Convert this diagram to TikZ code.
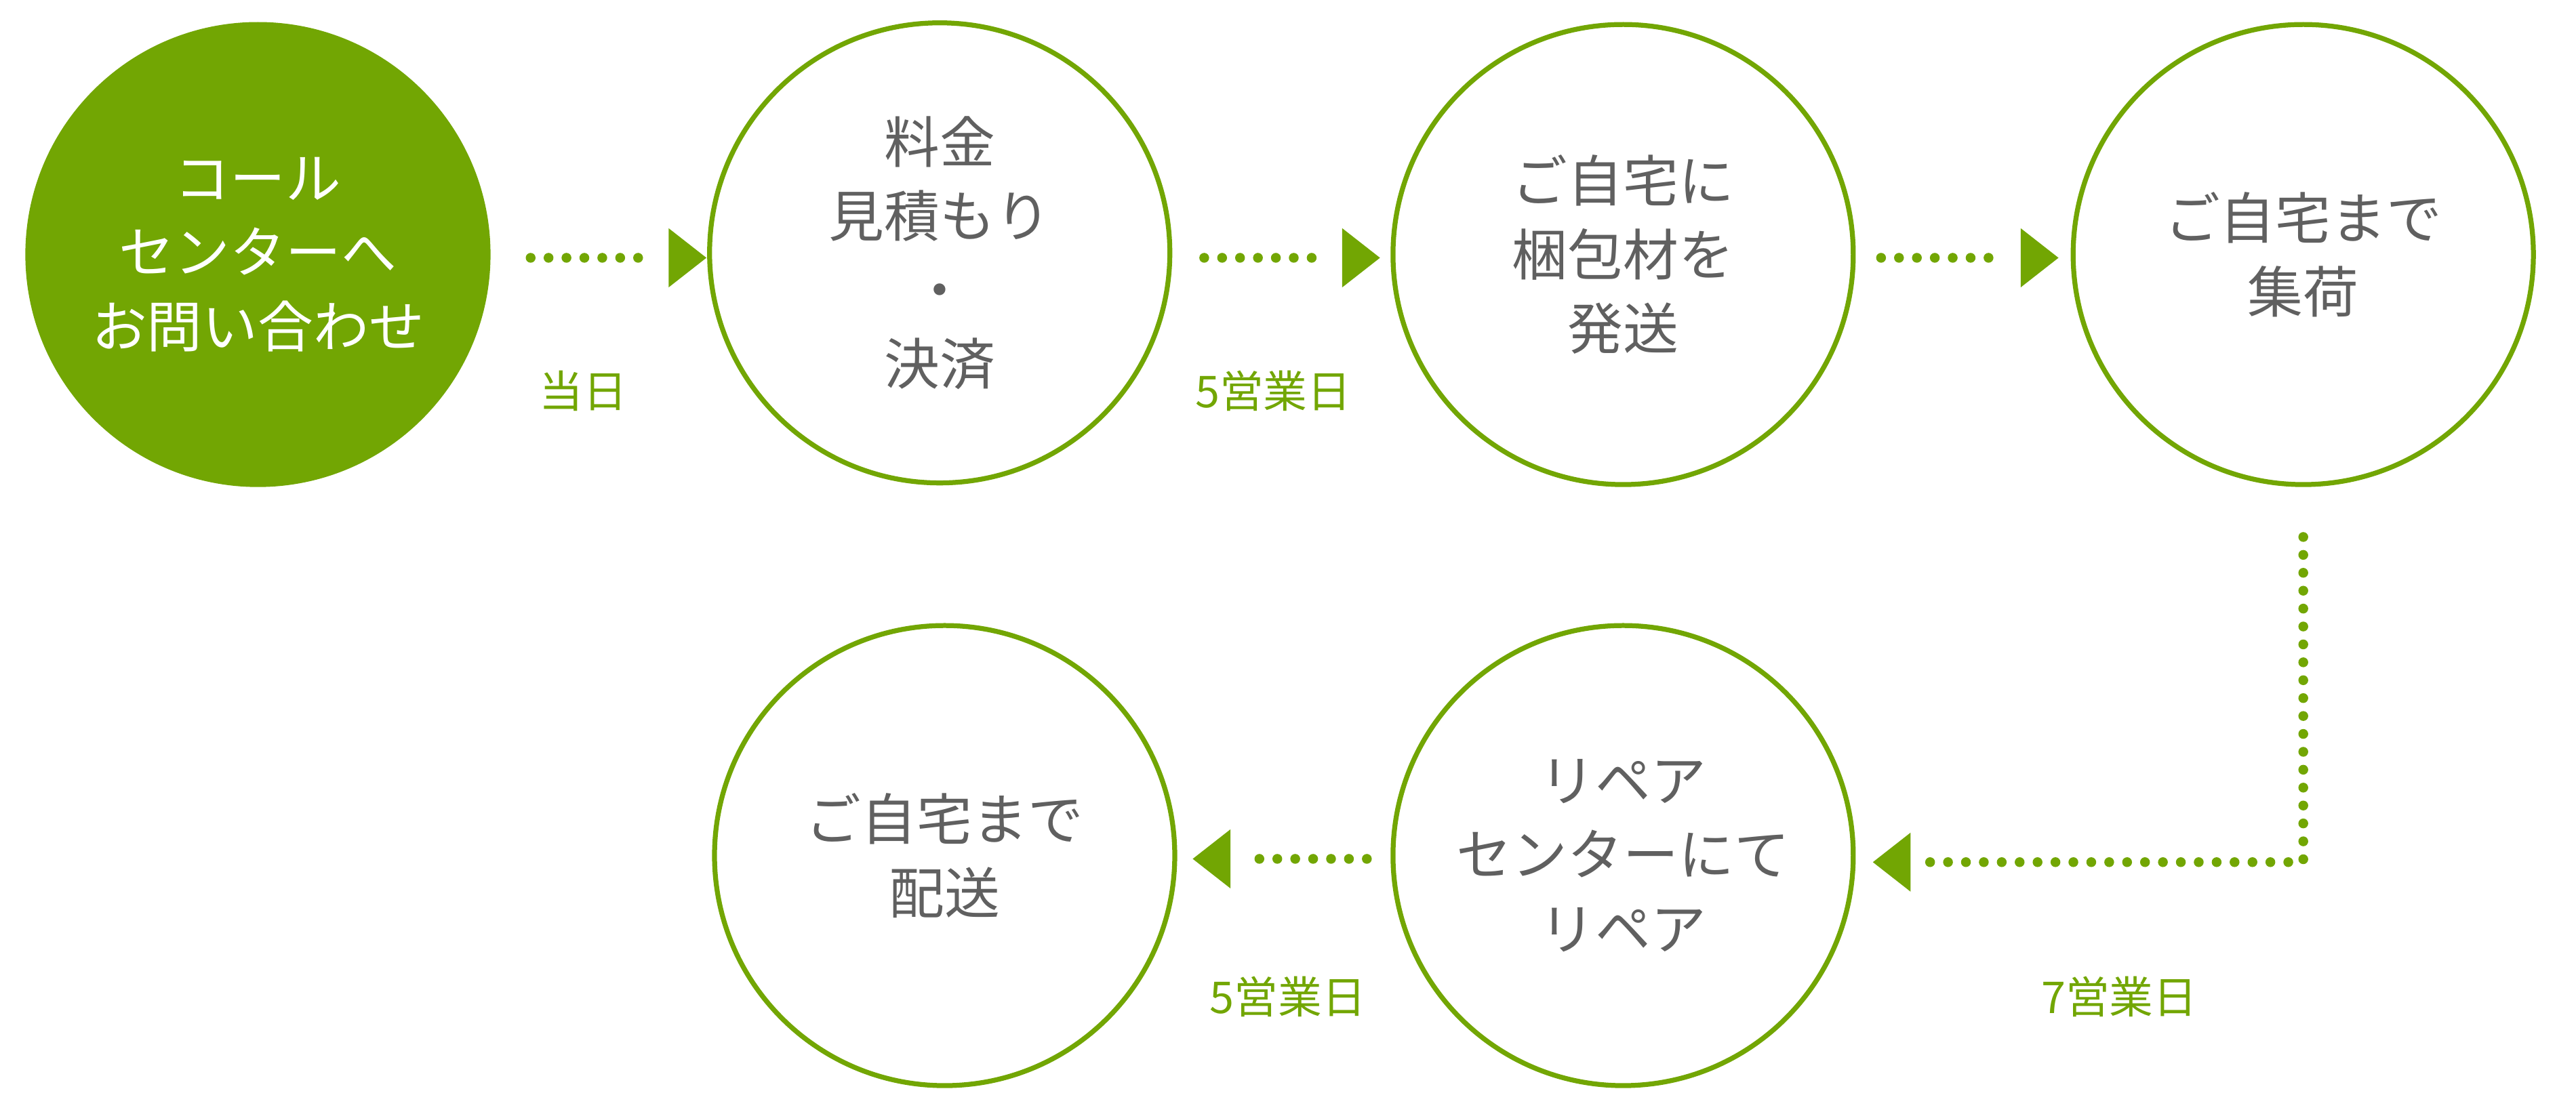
\documentclass[tikz,border=0pt]{standalone}
\usepackage{fontspec}
\setmainfont{Noto Sans CJK JP}
\definecolor{g}{HTML}{72A603}
\definecolor{tx}{HTML}{606060}
\begin{document}
\begin{tikzpicture}[x=0.01cm,y=-0.01cm,
  circ/.style={circle,draw=g,line width=0.85pt,minimum size=2.8cm,inner sep=0pt,align=center,text=tx,font=\fontsize{9.6}{12.8}\selectfont},
  dots/.style={g,line width=1.7pt,line cap=round,dash pattern=on 0pt off 3.1pt},
  lbl/.style={text=g,font=\fontsize{7.6}{9}\selectfont}]
\useasboundingbox (0,0) rectangle (1568,677);
\node[circ,fill=g,text=white] (a) at (157,155) {コール\\センターへ\\お問い合わせ};
\node[circ] (b) at (572,154) {料金\\見積もり\\・\\決済};
\node[circ] (c) at (988,155) {ご自宅に\\梱包材を\\発送};
\node[circ] (d) at (1402,155) {ご自宅まで\\集荷};
\node[circ] (e) at (988,521) {リペア\\センターにて\\リペア};
\node[circ] (f) at (575,521) {ご自宅まで\\配送};
\coordinate (a1) at (323,157); \coordinate (a2) at (394,157);
\coordinate (b1) at (733,157); \coordinate (b2) at (804,157);
\coordinate (c1) at (1145,157); \coordinate (c2) at (1216,157);
\coordinate (d1) at (1402,327); \coordinate (d2) at (1402,525); \coordinate (d3) at (1172,525);
\coordinate (e1) at (832,523); \coordinate (e2) at (761,523);
\draw[dots] (a1) -- (a2); \fill[g] (407,139) -- (430,157) -- (407,175) -- cycle;
\draw[dots] (b1) -- (b2); \fill[g] (817,139) -- (840,157) -- (817,175) -- cycle;
\draw[dots] (c1) -- (c2); \fill[g] (1230,139) -- (1253,157) -- (1230,175) -- cycle;
\draw[dots] (d1) -- (d2) -- (d3); \fill[g] (1163,507) -- (1140,525) -- (1163,543) -- cycle;
\draw[dots] (e1) -- (e2); \fill[g] (749,505) -- (726,523) -- (749,541) -- cycle;
\node[lbl] (l1) at (355,238) {当日};
\node[lbl] (l2) at (775,238) {5営業日};
\node[lbl] (l3) at (784,607) {5営業日};
\node[lbl] (l4) at (1290,607) {7営業日};
\end{tikzpicture}
\end{document}
